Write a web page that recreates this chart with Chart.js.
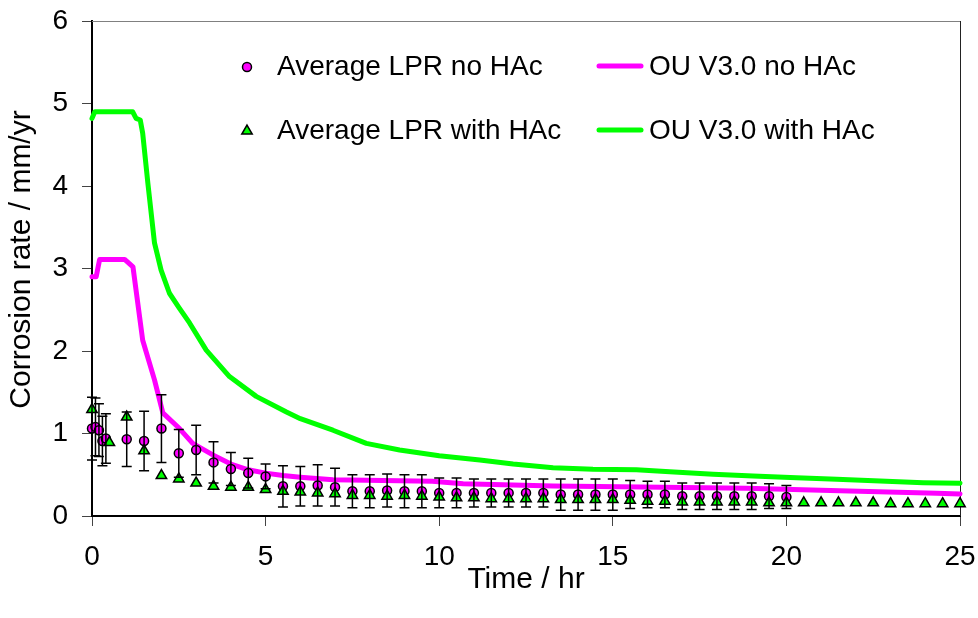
<!DOCTYPE html>
<html>
<head>
<meta charset="utf-8">
<title>Corrosion rate vs time</title>
<script src="https://cdn.jsdelivr.net/npm/chart.js@4.4.0/dist/chart.umd.min.js"></script>
<style>
  html, body { margin: 0; padding: 0; background: #fff; }
  #wrap { width: 978px; height: 618px; }
</style>
</head>
<body>
<div id="wrap"><canvas id="corrosionChart"></canvas></div>
<script>
// Average LPR, no HAc (hr, mm/yr, +/- error)
var lprTimeNoHAc = [0, 0.1, 0.2, 0.3, 0.4, 1, 1.5, 2, 2.5, 3, 3.5, 4, 4.5, 5, 5.5, 6, 6.5, 7, 7.5, 8, 8.5, 9, 9.5, 10,
  10.5, 11, 11.5, 12, 12.5, 13, 13.5, 14, 14.5, 15, 15.5, 16, 16.5, 17, 17.5, 18, 18.5, 19, 19.5, 20];
var lprRateNoHAc = [1.06, 1.08, 1.04, 0.91, 0.94, 0.93, 0.91, 1.06, 0.76, 0.80, 0.65, 0.57, 0.52, 0.48, 0.36, 0.36,
  0.37, 0.35, 0.30, 0.30, 0.31, 0.30, 0.30, 0.28, 0.28, 0.28, 0.28, 0.28, 0.28, 0.28, 0.26, 0.26, 0.26, 0.26,
  0.26, 0.26, 0.26, 0.24, 0.24, 0.24, 0.24, 0.24, 0.24, 0.23];
var lprErrNoHAc = [0.38, 0.35, 0.32, 0.30, 0.30, 0.33, 0.36, 0.41, 0.29, 0.30, 0.25, 0.20, 0.18, 0.15, 0.25, 0.24,
  0.25, 0.23, 0.20, 0.20, 0.20, 0.20, 0.20, 0.18, 0.18, 0.17, 0.17, 0.17, 0.17, 0.17, 0.19, 0.19, 0.19, 0.19,
  0.17, 0.16, 0.16, 0.16, 0.16, 0.16, 0.16, 0.16, 0.15, 0.14];

// Average LPR with HAc
var lprTimeHAc = [0, 0.5, 1, 1.5, 2, 2.5, 3, 3.5, 4, 4.5, 5, 5.5, 6, 6.5, 7, 7.5, 8, 8.5, 9, 9.5, 10, 10.5, 11, 11.5,
  12, 12.5, 13, 13.5, 14, 14.5, 15, 15.5, 16, 16.5, 17, 17.5, 18, 18.5, 19, 19.5, 20, 20.5, 21, 21.5, 22, 22.5,
  23, 23.5, 24, 24.5, 25];
var lprRateHAc = [1.29, 0.89, 1.20, 0.79, 0.49, 0.45, 0.40, 0.36, 0.35, 0.35, 0.32, 0.30, 0.29, 0.28, 0.27, 0.25,
  0.25, 0.24, 0.25, 0.24, 0.23, 0.22, 0.22, 0.21, 0.21, 0.21, 0.21, 0.20, 0.20, 0.20, 0.20, 0.19, 0.18, 0.18,
  0.17, 0.17, 0.17, 0.17, 0.17, 0.16, 0.16, 0.16, 0.16, 0.16, 0.16, 0.16, 0.15, 0.15, 0.15, 0.15, 0.15];

// OU V3.0 model predictions
var modelTimeNoHAc = [0, 0.12, 0.22, 0.94, 1.18, 1.46, 1.80, 2.04, 2.52, 2.9, 3.48, 4.0, 4.5, 5.0, 5.5, 6.0, 6.94,
  9.8, 10.69, 13.28, 15.2, 18.85, 21.54, 24.33, 25];
var modelRateNoHAc = [2.90, 2.90, 3.11, 3.11, 3.02, 2.13, 1.65, 1.25, 1.06, 0.88, 0.74, 0.63, 0.56, 0.52, 0.49, 0.47,
  0.44, 0.42, 0.39, 0.365, 0.355, 0.335, 0.307, 0.275, 0.267];
var modelTimeHAc = [0, 0.08, 1.17, 1.27, 1.39, 1.46, 1.61, 1.80, 1.99, 2.23, 2.5, 2.81, 3.29, 3.96, 4.73, 5.6, 6.0,
  6.94, 7.9, 8.86, 10.0, 11.17, 12.13, 13.28, 14.43, 15.68, 16.64, 17.89, 19.04, 20.29, 21.45, 22.7, 23.94, 25];
var modelRateHAc = [4.82, 4.90, 4.90, 4.82, 4.80, 4.64, 4.03, 3.31, 2.98, 2.70, 2.53, 2.34, 2.01, 1.69, 1.45, 1.26,
  1.18, 1.04, 0.88, 0.80, 0.73, 0.68, 0.63, 0.585, 0.566, 0.56, 0.537, 0.505, 0.485, 0.465, 0.445, 0.424, 0.404,
  0.396];

var FONT = '"Liberation Sans", Arial, sans-serif';
var yTitle = 'Corrosion rate / mm/yr';

function toPoints(xs, ys) {
  return xs.map(function(x, i) { return { x: x, y: ys[i] }; });
}

// error bars for the LPR (no HAc) series, drawn over all markers
var errorBars = {
  id: 'errorBars',
  afterDatasetsDraw: function(chart) {
    var meta = chart.getDatasetMeta(0);
    var yScale = chart.scales.y;
    var ctx = chart.ctx;
    ctx.save();
    ctx.strokeStyle = '#000';
    ctx.lineWidth = 1.5;
    meta.data.forEach(function(pt, i) {
      var top = yScale.getPixelForValue(lprRateNoHAc[i] + lprErrNoHAc[i]);
      var bot = yScale.getPixelForValue(lprRateNoHAc[i] - lprErrNoHAc[i]);
      ctx.beginPath();
      ctx.moveTo(pt.x, top); ctx.lineTo(pt.x, bot);
      ctx.moveTo(pt.x - 5, top); ctx.lineTo(pt.x + 5, top);
      ctx.moveTo(pt.x - 5, bot); ctx.lineTo(pt.x + 5, bot);
      ctx.stroke();
    });
    ctx.restore();
  }
};

// thin frame on the top and right of the plot area, plus the y title
// (sits a little above the axis centre, so it is drawn here)
var plotFrame = {
  id: 'plotFrame',
  beforeDatasetsDraw: function(chart) {
    var a = chart.chartArea, ctx = chart.ctx;
    ctx.save();
    ctx.lineWidth = 1;
    ctx.strokeStyle = '#808080';
    ctx.beginPath();
    ctx.moveTo(a.left, a.top + 0.5); ctx.lineTo(a.right, a.top + 0.5);
    ctx.stroke();
    ctx.strokeStyle = '#222';
    ctx.beginPath();
    ctx.moveTo(a.right + 0.5, a.top); ctx.lineTo(a.right + 0.5, a.bottom);
    ctx.stroke();

    ctx.translate(22, (a.top + a.bottom) / 2 - 9);
    ctx.rotate(-Math.PI / 2);
    ctx.font = '30px ' + FONT;
    ctx.fillStyle = '#000';
    ctx.textAlign = 'center';
    ctx.textBaseline = 'middle';
    ctx.fillText(yTitle, 0, 0);
    ctx.restore();
  }
};

// two-column legend inside the plot
var insideLegend = {
  id: 'insideLegend',
  afterDraw: function(chart) {
    var ctx = chart.ctx;
    var slots = [
      { ds: 0, x: 247, y: 67 },
      { ds: 1, x: 247, y: 131 },
      { ds: 2, x: 597, y: 67 },
      { ds: 3, x: 597, y: 131 }
    ];
    ctx.save();
    ctx.font = '28px ' + FONT;
    ctx.textBaseline = 'middle';
    ctx.fillStyle = '#000';
    slots.forEach(function(s) {
      var d = chart.data.datasets[s.ds];
      var textX;
      if (d.showLine) {
        ctx.save();
        ctx.strokeStyle = d.borderColor;
        ctx.lineWidth = d.borderWidth;
        ctx.lineCap = 'round';
        ctx.beginPath();
        ctx.moveTo(s.x + 2, s.y - 1); ctx.lineTo(s.x + 44, s.y - 1);
        ctx.stroke();
        ctx.restore();
        textX = s.x + 52;
      } else {
        ctx.save();
        ctx.fillStyle = d.pointBackgroundColor;
        ctx.strokeStyle = d.pointBorderColor;
        ctx.lineWidth = d.pointBorderWidth;
        Chart.helpers.drawPoint(ctx, {
          pointStyle: d.pointStyle,
          radius: d.pointRadius,
          rotation: 0,
          borderWidth: d.pointBorderWidth
        }, s.x, s.y);
        ctx.restore();
        textX = s.x + 30;
      }
      ctx.fillText(d.label, textX, s.y);
    });
    ctx.restore();
  }
};

Chart.defaults.font.family = FONT;
Chart.defaults.font.size = 28;
Chart.defaults.color = '#000';

var chart = new Chart(document.getElementById('corrosionChart'), {
  type: 'scatter',
  data: {
    datasets: [{
      label: 'Average LPR no HAc',
      data: toPoints(lprTimeNoHAc, lprRateNoHAc),
      showLine: false,
      pointStyle: 'circle',
      pointRadius: 4.5,
      pointBorderWidth: 1.5,
      pointBorderColor: '#000',
      pointBackgroundColor: '#FF00FF',
      clip: false,
      order: 2
    }, {
      label: 'Average LPR with HAc',
      data: toPoints(lprTimeHAc, lprRateHAc),
      showLine: false,
      pointStyle: 'triangle',
      pointRadius: 6,
      pointBorderWidth: 1.5,
      pointBorderColor: '#000',
      pointBackgroundColor: '#00FF00',
      clip: false,
      order: 1
    }, {
      label: 'OU V3.0 no HAc',
      data: toPoints(modelTimeNoHAc, modelRateNoHAc),
      showLine: true,
      borderColor: '#FF00FF',
      borderWidth: 5,
      borderCapStyle: 'round',
      borderJoinStyle: 'round',
      pointRadius: 0,
      tension: 0,
      clip: false,
      order: 4
    }, {
      label: 'OU V3.0 with HAc',
      data: toPoints(modelTimeHAc, modelRateHAc),
      showLine: true,
      borderColor: '#00FF00',
      borderWidth: 5,
      borderCapStyle: 'round',
      borderJoinStyle: 'round',
      pointRadius: 0,
      tension: 0,
      clip: false,
      order: 3
    }]
  },
  options: {
    responsive: true,
    maintainAspectRatio: false,
    devicePixelRatio: 1,
    animation: false,
    events: [],
    layout: { padding: { top: 21, right: 18, left: 0, bottom: 0 } },
    plugins: {
      legend: { display: false },
      tooltip: { enabled: false }
    },
    scales: {
      x: {
        type: 'linear',
        min: 0,
        max: 25,
        ticks: { stepSize: 5, padding: 14, maxRotation: 0 },
        grid: { drawOnChartArea: false, tickLength: 10, tickColor: '#444', tickWidth: 1 },
        border: { color: '#000', width: 2 },
        title: { display: true, text: 'Time / hr', font: { size: 30 }, padding: { top: 0, bottom: 20 } },
        afterFit: function(s) {
          s.height = 102;
          s.paddingLeft = 0;
          s.paddingRight = 0;
        }
      },
      y: {
        min: 0,
        max: 6,
        ticks: { stepSize: 1, padding: 14 },
        grid: { drawOnChartArea: false, tickLength: 10, tickColor: '#444', tickWidth: 1 },
        border: { color: '#000', width: 2 },
        afterFit: function(s) {
          s.width = 92;
          s.paddingTop = 0;
          s.paddingBottom = 0;
        }
      }
    }
  },
  plugins: [plotFrame, errorBars, insideLegend]
});
</script>
</body>
</html>
